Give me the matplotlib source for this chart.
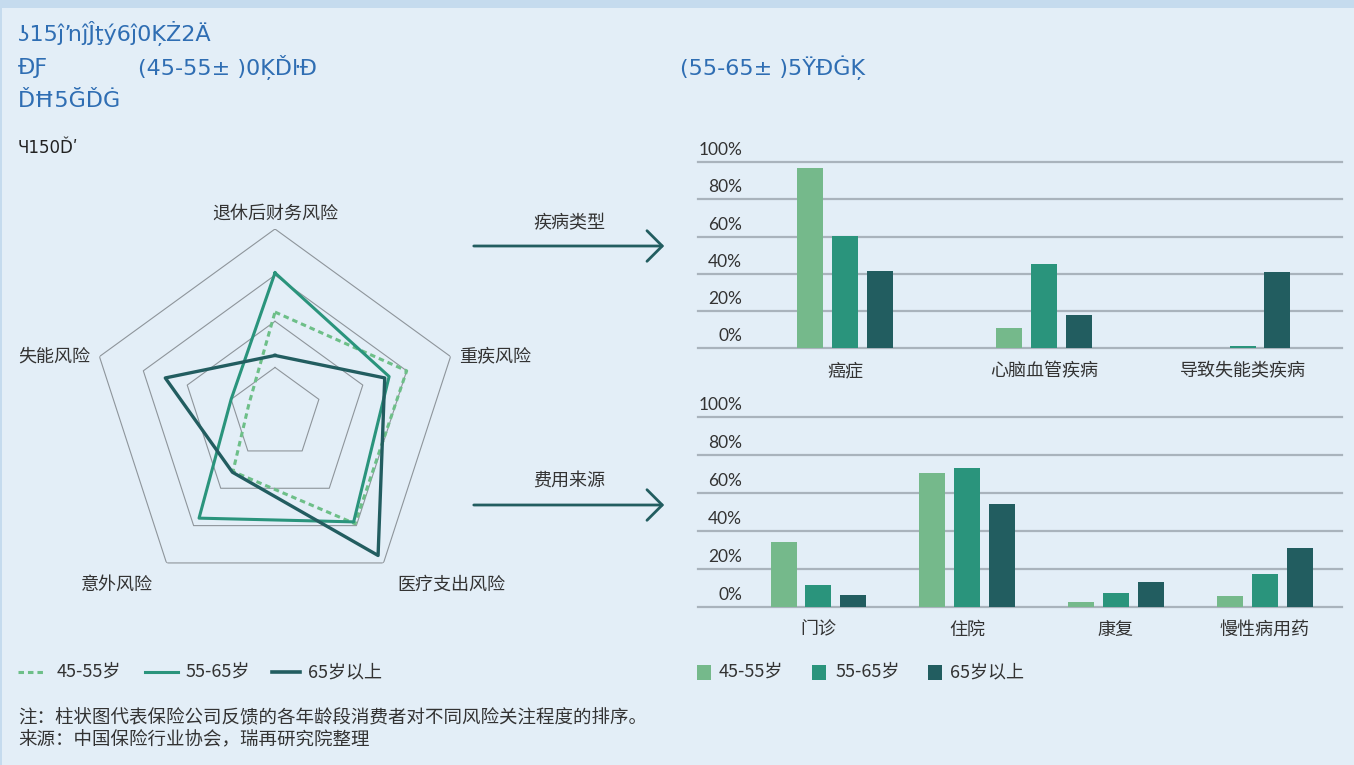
import numpy as np
import matplotlib
matplotlib.use("Agg")
import matplotlib.pyplot as plt
from matplotlib.lines import Line2D
from matplotlib.patches import Rectangle, FancyArrowPatch
from matplotlib.transforms import offset_copy

plt.rcParams['font.family'] = ['Noto Sans CJK SC', 'DejaVu Sans']

# ---------------- data ----------------
radar_axes = ['退休后财务风险', '重疾风险', '医疗支出风险', '意外风险', '失能风险']
series_names = ['45-55岁', '55-65岁', '65岁以上']
radar_4555 = [2.2, 3.0, 2.95, 1.55, 0.6]
radar_5565 = [3.05, 2.6, 2.9, 2.8, 1.0]
radar_65p = [1.26, 2.5, 3.8, 1.57, 2.5]
ring_levels = [1, 2, 3, 4]

disease_cats = ['癌症', '心脑血管疾病', '导致失能类疾病']
disease_4555 = [96.8, 10.9, 0.0]
disease_5565 = [60.3, 45.3, 1.3]
disease_65p = [41.5, 17.9, 41.0]

cost_cats = ['门诊', '住院', '康复', '慢性病用药']
cost_4555 = [34.1, 70.5, 2.5, 5.6]
cost_5565 = [11.4, 73.1, 7.2, 17.2]
cost_65p = [6.2, 54.1, 13.0, 30.9]

pct_ticks = [0, 20, 40, 60, 80, 100]
pct_labels = ['0%', '20%', '40%', '60%', '80%', '100%']

notes = ['注：柱状图代表保险公司反馈的各年龄段消费者对不同风险关注程度的排序。',
         '来源：中国保险行业协会，瑞再研究院整理']

# ---------------- style ----------------
W, H = 1354, 765
BG = '#E3EEF7'
C_LIGHT = '#75B98B'
C_MED = '#2A947C'
C_DARK = '#225D60'
TXT = '#333333'
BLUE = '#2F6EB3'
GRID = '#A9B3BC'
DASH = (0, (1.8, 1.3))

fig = plt.figure(figsize=(W / 100, H / 100), dpi=100, facecolor=BG)


def fx(px):
    return px / W


def fy(py):
    return 1 - py / H


# frame decorations
fig.add_artist(Rectangle((0, fy(8)), 1, 8 / H, transform=fig.transFigure,
                         color='#C5DBEE', lw=0, zorder=0))
fig.add_artist(Rectangle((0, 0), 2 / W, 1, transform=fig.transFigure,
                         color='#C5DBEE', lw=0, zorder=0))

# garbled title text (as in the reference)
fig.text(fx(18), fy(33), 'ʖ15ĵŉĵĴţý6ĵ0ĶŻ2Ä', color=BLUE, fontsize=16,
         family='DejaVu Sans', va='center')
fig.text(fx(18), fy(68), 'ĐƑ', color=BLUE, fontsize=16, family='DejaVu Sans', va='center')
fig.text(fx(138), fy(68), '(45-55± )0ĶĎŀĐ', color=BLUE, fontsize=16,
         family='DejaVu Sans', va='center')
fig.text(fx(18), fy(101), 'ĎĦ5ĞĎĠ', color=BLUE, fontsize=16, family='DejaVu Sans', va='center')
fig.text(fx(680), fy(68), '(55-65± )5ŸĐĠĶ', color=BLUE, fontsize=16,
         family='DejaVu Sans', va='center')
fig.text(fx(18), fy(148), 'Ɥ150Ďʹ', color='#222222', fontsize=12,
         family='DejaVu Sans', va='center')

# ---------------- radar ----------------
cx, cy, R = 275, 413.6, 184.6
rax = fig.add_axes([fx(cx - R), fy(cy + R), 2 * R / W, 2 * R / H], projection='polar')
rax.set_facecolor('none')
rax.set_theta_offset(np.pi / 2)
rax.set_theta_direction(-1)
rax.set_ylim(0, 4)
rax.grid(False)
rax.set_xticks([])
rax.set_yticks([])
rax.spines['polar'].set_visible(False)

n = len(radar_axes)
theta = np.arange(n) * 2 * np.pi / n
theta_c = np.append(theta, theta[0])
for lv in ring_levels:
    rax.plot(theta_c, [lv] * (n + 1), color='#8E959B', lw=0.8, zorder=1)


def closed(v):
    return list(v) + [v[0]]


rax.plot(theta_c, closed(radar_4555), color='#6DBF88', lw=2.2, ls=DASH, zorder=3)
rax.plot(theta_c, closed(radar_5565), color=C_MED, lw=2.2, zorder=4)
rax.plot(theta_c, closed(radar_65p), color=C_DARK, lw=2.4, zorder=5)

label_tr = offset_copy(rax.transData, fig=fig, x=0, y=-3, units='dots')
label_pos = [(4.40, 'center', 'center'), (4.2, 'left', 'center'), (4.5, 'left', 'center'),
             (4.5, 'right', 'center'), (4.2, 'right', 'center')]
for t, name, (r, ha, va) in zip(theta, radar_axes, label_pos):
    rax.text(t, r, name, ha=ha, va=va, fontsize=13, color=TXT, clip_on=False,
             transform=label_tr)

# arrows
for ay, lab in [(246, '疾病类型'), (505, '费用来源')]:
    fig.add_artist(FancyArrowPatch((fx(471), fy(ay)), (fx(667), fy(ay)),
                                   transform=fig.transFigure,
                                   arrowstyle='->,head_length=0.55,head_width=0.55',
                                   mutation_scale=20, lw=2, color=C_DARK))
    fig.text(fx(569), fy(ay - 23), lab, ha='center', va='center', fontsize=13, color=TXT)


# ---------------- bar charts ----------------
def bar_chart(rect, cats, s1, s2, s3, xlim, width, offset):
    ax = fig.add_axes(rect)
    ax.set_facecolor('none')
    x = np.arange(len(cats))
    ax.bar(x - offset, s1, width, color=C_LIGHT, zorder=3)
    ax.bar(x, s2, width, color=C_MED, zorder=3)
    ax.bar(x + offset, s3, width, color=C_DARK, zorder=3)
    ax.set_xlim(*xlim)
    ax.set_ylim(0, 100)
    for v in pct_ticks:
        ax.axhline(v, color=GRID, lw=1.6, zorder=1, clip_on=False)
    tr = offset_copy(ax.get_yaxis_transform(), fig=fig, x=0, y=4, units='dots')
    for v, lab in zip(pct_ticks, pct_labels):
        ax.text(44 / (rect[2] * W), v, lab, transform=tr, ha='right', va='bottom',
                fontsize=12.5, color=TXT, family=['Lato', 'DejaVu Sans'])
    ax.set_yticks([])
    ax.set_xticks(x)
    ax.set_xticklabels(cats, fontsize=13, color=TXT)
    ax.tick_params(axis='x', length=0, pad=10)
    for s in ax.spines.values():
        s.set_visible(False)
    return ax


bx0, bx1 = 698, 1342
bar_chart([fx(bx0), fy(348.3), (bx1 - bx0) / W, (348.3 - 162) / H],
          disease_cats, disease_4555, disease_5565, disease_65p,
          (-0.74, 2.5), 0.13, 0.175)
bar_chart([fx(bx0), fy(606.7), (bx1 - bx0) / W, (606.7 - 417) / H],
          cost_cats, cost_4555, cost_5565, cost_65p,
          (-0.81, 3.52), 0.175, 0.235)

# ---------------- legends ----------------
ly = 672
line_styles = [('#6DBF88', DASH, 2.2), (C_MED, '-', 2.2), (C_DARK, '-', 2.6)]
for (x0, x1, xt), (col, ls, lw), name in zip([(18, 45, 57), (145, 178, 186), (272, 300, 308)],
                                             line_styles, series_names):
    fig.add_artist(Line2D([fx(x0), fx(x1)], [fy(ly), fy(ly)], transform=fig.transFigure,
                          color=col, ls=ls, lw=lw))
    fig.text(fx(xt), fy(ly), name, va='center', ha='left', fontsize=13, color=TXT)

for (x0, xt), col, name in zip([(697, 719), (812, 836), (928, 950)],
                               [C_LIGHT, C_MED, C_DARK], series_names):
    fig.add_artist(Rectangle((fx(x0), fy(ly + 7.5)), 14 / W, 15 / H,
                             transform=fig.transFigure, color=col, lw=0))
    fig.text(fx(xt), fy(ly), name, va='center', ha='left', fontsize=13, color=TXT)

# notes
fig.text(fx(18), fy(718), notes[0], va='center', ha='left', fontsize=13.3, color=TXT)
fig.text(fx(18), fy(740), notes[1], va='center', ha='left', fontsize=13.3, color=TXT)

fig.savefig('out.png', dpi=100, facecolor=BG)
